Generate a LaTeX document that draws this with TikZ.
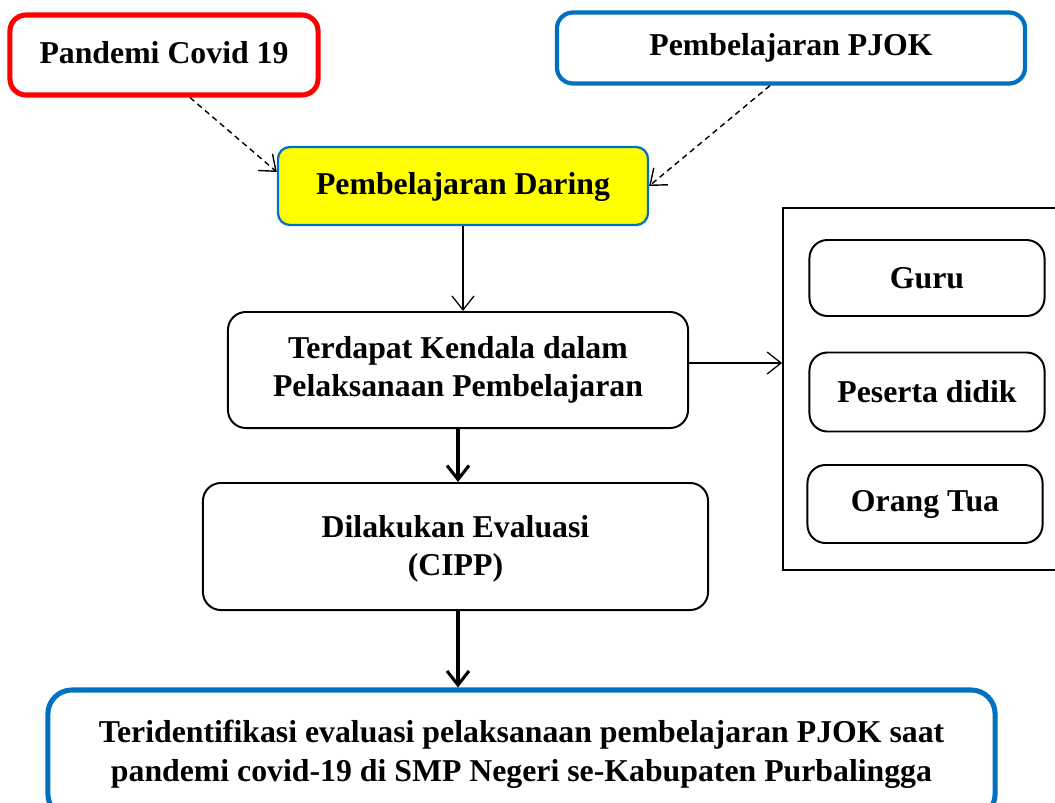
\documentclass[tikz,border=0pt]{standalone}
\usepackage{fontspec}
\setmainfont{Liberation Serif}
\usetikzlibrary{arrows.meta}
\definecolor{covidred}{RGB}{255,0,0}
\definecolor{pjokblue}{RGB}{0,112,192}
\definecolor{daringyellow}{RGB}{255,255,0}

\begin{document}
\begin{tikzpicture}[x=0.025cm, y=-0.025cm,
        font=\fontsize{22.6}{27.5}\selectfont\bfseries,
        >={Straight Barb[length=3.5mm,width=5.5mm]},
        box/.style={draw, line width=1.4pt, rounded corners=0.45cm, align=center, inner sep=0pt},
        thin arrow/.style={->, line width=0.9pt},
        thick arrow/.style={->, line width=2.2pt},
        dash arrow/.style={->, line width=1pt, dash pattern=on 4pt off 3pt}]
         \useasboundingbox (0, 0) rectangle (1055, 803);
         \clip (0, 0) rectangle (1055, 803);
         \node [box, draw=covidred, line width=3.6pt, rounded corners=0.4cm, minimum width=7.7cm, minimum height=2cm, text depth=0.15cm] (covid) at (164, 55) {Pandemi Covid 19};
         \node [box, draw=pjokblue, line width=3pt, rounded corners=0.4cm, minimum width=11.7cm, minimum height=1.775cm] (pjok) at (791, 48) {Pembelajaran PJOK};
         \node [box, draw=pjokblue, fill=daringyellow, line width=1.6pt, rounded corners=0.3cm, minimum width=9.25cm, minimum height=1.95cm, text depth=0.15cm] (daring) at (463, 186) {Pembelajaran Daring};
         \node [box, minimum width=11.5cm, minimum height=2.9cm] (kendala) at (458, 370) {Terdapat Kendala dalam\\Pelaksanaan Pembelajaran};
         \node [box, minimum width=12.625cm, minimum height=3.175cm] (evaluasi) at (455.5, 546.5) {\\[-0.3cm]Dilakukan Evaluasi\\(CIPP)};
         \node [box, draw=pjokblue, line width=3.6pt, rounded corners=0.6cm, minimum width=23.675cm, minimum height=3.2cm] (hasil) at (521.5, 754) {Teridentifikasi evaluasi pelaksanaan pembelajaran PJOK saat\\pandemi covid-19 di SMP Negeri se-Kabupaten Purbalingga};
         \node [draw, line width=1.2pt, inner sep=0pt, minimum width=7.3cm, minimum height=9.05cm] (pihak) at (929, 389) {};
         \node [box, minimum width=5.875cm, minimum height=1.9cm] (guru) at (927, 278) {Guru};
         \node [box, minimum width=5.875cm, minimum height=1.975cm] (siswa) at (927, 392) {Peserta didik};
         \node [box, minimum width=5.875cm, minimum height=1.95cm] (ortu) at (925, 504) {Orang Tua};
         \draw [dash arrow] ([xshift=0.65cm]covid.south) -- ([yshift=0.35cm]daring.west);
         \draw [dash arrow] ([xshift=-0.525cm]pjok.south) -- (daring.east);
         \draw [thin arrow] (daring.south) -- (daring.south |- kendala.north);
         \draw [thin arrow] ([yshift=0.175cm]kendala.east) -- ([yshift=0.175cm]kendala.east -| pihak.west);
         \draw [thick arrow] (kendala.south) -- (kendala.south |- evaluasi.north);
         \draw [thick arrow] (kendala.south |- evaluasi.south) -- (kendala.south |- hasil.north);
\end{tikzpicture}
\end{document}
